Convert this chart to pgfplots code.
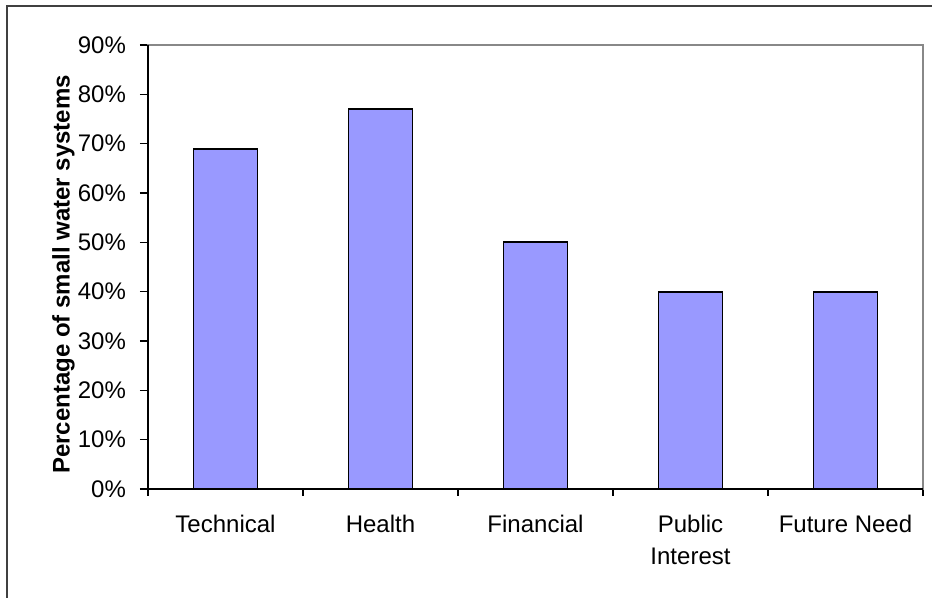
\documentclass[border=0pt]{standalone}
\usepackage{fontspec}
\setmainfont{Liberation Sans}
\usepackage{pgfplots}
\pgfplotsset{compat=1.18}
\definecolor{barfill}{RGB}{153,153,255}
\definecolor{framegray}{RGB}{136,136,136}
\begin{document}
\begin{tikzpicture}
\begin{axis}[
  scale only axis, width=387.5pt, height=222pt,
  xmin=-0.5, xmax=4.5, ymin=0, ymax=90,
  clip=false,
  xtick={0,1,2,3,4},
  xticklabels={Technical, Health, Financial, {Public\\Interest}, Future Need},
  minor xtick={-0.5,0.5,1.5,2.5,3.5,4.5},
  ytick={0,10,20,30,40,50,60,70,80,90},
  yticklabel={\pgfmathprintnumber{\tick}\%},
  /pgf/number format/assume math mode=true,
  tick align=outside,
  xtick pos=bottom, ytick pos=left,
  major x tick style={draw=none},
  major tick length=4pt, minor tick length=3.5pt,
  tick style={black, line width=0.6pt},
  minor tick style={black, line width=0.6pt},
  axis line style={framegray, line width=1pt},
  tick label style={font=\fontsize{12}{16}\selectfont},
  xticklabel style={align=center, yshift=-5.5pt},
  yticklabel style={xshift=-3.5pt},
  ylabel={Percentage of small water systems},
  every axis y label/.style={at={(axis description cs:-0.109,0.483)}, rotate=90, anchor=center, font=\bfseries\fontsize{12}{16}\selectfont},
  ybar, bar width=32pt,
]
\addplot[fill=barfill, draw=black, line width=0.9pt] coordinates {(0,69) (1,77) (2,50) (3,40) (4,40)};
\draw[black, line width=0.9pt] (rel axis cs:0,1) -- (rel axis cs:0,0) -- (rel axis cs:1,0);
\end{axis}
\pgfresetboundingbox
\path[use as bounding box] ([xshift=-74pt,yshift=-54.5pt]current axis.south west) rectangle ([xshift=4.5pt,yshift=22.5pt]current axis.north east);
\draw[line width=1pt, black!75] ([xshift=-70.5pt,yshift=-60pt]current axis.south west) -- ([xshift=-70.5pt,yshift=19.5pt]current axis.north west) -- ([xshift=10pt,yshift=19.5pt]current axis.north east);
\end{tikzpicture}
\end{document}
